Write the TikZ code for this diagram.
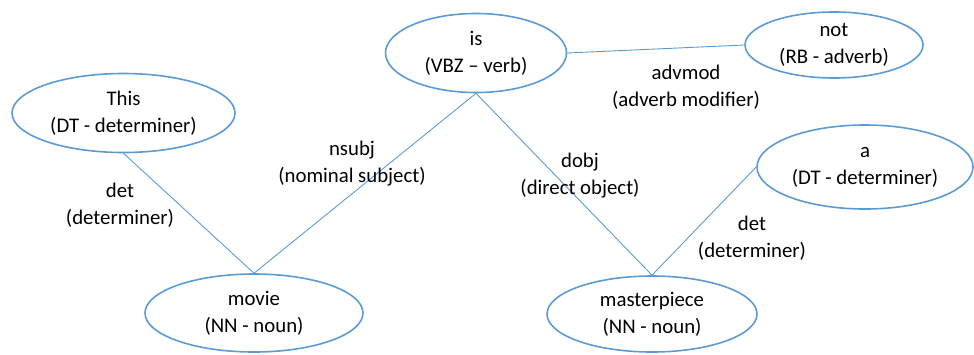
\documentclass[tikz,border=0pt]{standalone}
\usepackage{fontspec}
\setmainfont{Carlito}
\usetikzlibrary{shapes.geometric}
\definecolor{linkblue}{RGB}{91,155,213}
\tikzset{
  word/.style={ellipse, draw=linkblue, line width=1.6pt, inner sep=0pt,
    align=center, font=\fontsize{20.8}{27}\selectfont, text=black},
  rel/.style={align=center, font=\fontsize{20.8}{27}\selectfont, text=black, inner sep=0pt},
  arc/.style={draw=linkblue, line width=0.9pt}
}
\begin{document}
\begin{tikzpicture}[x=1pt,y=-1pt]
  \useasboundingbox (0,0) rectangle (974,354);
  % words of the sentence
  \node[word, minimum width=181pt, minimum height=79pt] (is) at (476,53) {is\\(VBZ -- verb)};
  \node[word, minimum width=178pt, minimum height=66pt] (not) at (834,45) {not\\(RB - adverb)};
  \node[word, minimum width=223pt, minimum height=79pt] (this) at (123.5,113) {This\\(DT - determiner)};
  \node[word, minimum width=218pt, minimum height=78pt] (movie) at (254,313) {movie\\(NN - noun)};
  \node[word, minimum width=210pt, minimum height=76pt] (masterpiece) at (652,314) {masterpiece\\(NN - noun)};
  \node[word, minimum width=216pt, minimum height=84pt] (a) at (865,167) {a\\(DT - determiner)};
  % dependency arcs
  \draw[arc] (this.south) -- (movie.north);
  \draw[arc] (is.south) -- (movie.north);
  \draw[arc] (is.south) -- (masterpiece.north);
  \draw[arc] (is.east) -- (not.west);
  \draw[arc] (a.west) -- (masterpiece.north);
  % relation labels
  \node[rel] (ldet1) at (120,205) {det\\(determiner)};
  \node[rel] (lnsubj) at (352,164) {nsubj\\(nominal subject)};
  \node[rel] (ldobj) at (580,176) {dobj\\(direct object)};
  \node[rel] (ladv) at (686,87) {advmod\\(adverb modifier)};
  \node[rel] (ldet2) at (752,238) {det\\(determiner)};
\end{tikzpicture}
\end{document}
